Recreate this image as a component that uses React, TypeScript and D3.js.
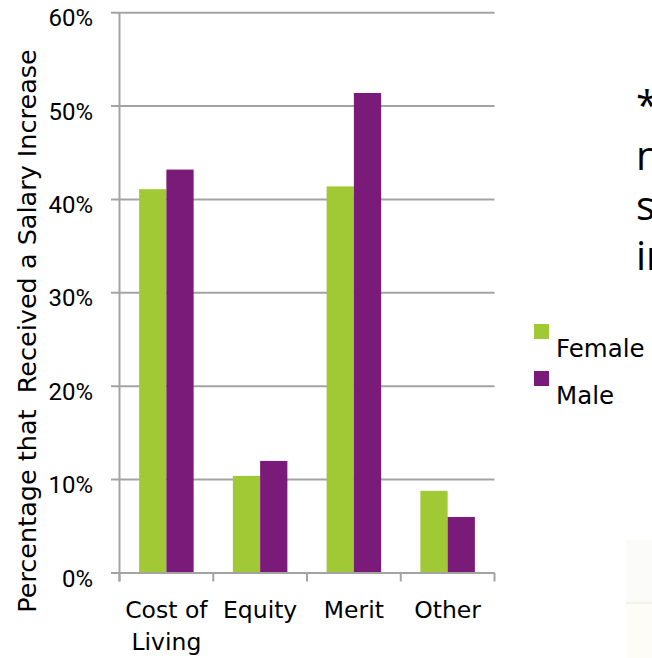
import React from "react";
import * as d3 from "d3";

// Share of respondents who received each kind of salary increase, by gender
const categories = ["Cost of Living", "Equity", "Merit", "Other"];
const categoryLines = [["Cost of", "Living"], ["Equity"], ["Merit"], ["Other"]];
const seriesNames = ["Female", "Male"];
const femaleValues = [0.411, 0.104, 0.414, 0.088];
const maleValues = [0.432, 0.12, 0.514, 0.06];
const yTicks = [0, 0.1, 0.2, 0.3, 0.4, 0.5, 0.6];
const sideNoteLines = ["*", "n", "s", "in"];

const colors = ["#a1c935", "#7b1b79"];
const gridColor = "#a3a3a3";

const W = 652;
const H = 658;
const left = 119.5;
const right = 494.5;
const top = 12.7;
const bottom = 573;

export default function App() {
  const x = d3.scaleBand<string>().domain(categories).range([left, right]).padding(0);
  const inner = d3
    .scaleBand<string>()
    .domain(seriesNames)
    .range([0, x.bandwidth()])
    .paddingInner(0)
    .paddingOuter(0.72);
  const y = d3.scaleLinear().domain([0, 0.6]).range([bottom, top]);
  const fmt = d3.format(".0%");
  const series = [femaleValues, maleValues];
  const boundaries = [...categories.map((c) => x(c) as number), right];

  return (
    <svg
      width={W}
      height={H}
      style={{ position: "absolute", left: 0, top: 0, display: "block", background: "#fff" }}
    >
      <rect x={0} y={0} width={W} height={H} fill="#fff" />

      {/* faint photo corner at the lower right */}
      <rect x={626} y={540} width={26} height={63} fill="#fbfbf9" />
      <rect x={626} y={603} width={26} height={55} fill="#fdfcf6" />
      <line x1={626} x2={652} y1={603} y2={603} stroke="#f4ede0" strokeWidth={1.2} />

      {/* horizontal gridlines with their left tick marks */}
      {yTicks.map((t) => (
        <line
          key={"g" + t}
          x1={111}
          x2={right}
          y1={y(t)}
          y2={y(t)}
          stroke={gridColor}
          strokeWidth={2}
        />
      ))}

      {/* bars */}
      {categories.map((c, ci) =>
        seriesNames.map((s, si) => {
          const v = series[si][ci];
          const bx = (x(c) as number) + (inner(s) as number);
          return (
            <rect
              key={c + s}
              x={bx}
              y={y(v)}
              width={inner.bandwidth()}
              height={y(0) - y(v)}
              fill={colors[si]}
            />
          );
        })
      )}

      {/* vertical axis */}
      <line x1={left} x2={left} y1={top} y2={bottom + 8.5} stroke={gridColor} strokeWidth={2} />
      {/* category tick marks below the baseline */}
      {boundaries.map((bx, i) => (
        <line
          key={"xt" + i}
          x1={bx}
          x2={bx}
          y1={bottom}
          y2={bottom + 8.5}
          stroke={gridColor}
          strokeWidth={2}
        />
      ))}
      <line x1={111} x2={right} y1={bottom} y2={bottom} stroke={gridColor} strokeWidth={2} />

      {/* y tick labels */}
      {yTicks.map((t) => (
        <text
          key={"yl" + t}
          x={93}
          y={y(t) + 13.6}
          textAnchor="end"
          fontFamily="Roboto, sans-serif"
          fontSize={24}
          fill="#000"
        >
          {fmt(t)}
        </text>
      ))}

      {/* category labels */}
      {categories.map((c, ci) => (
        <text
          key={"xl" + c}
          textAnchor="middle"
          fontFamily="'DejaVu Sans', sans-serif"
          fontSize={23.5}
          fill="#000"
        >
          {categoryLines[ci].map((ln, li) => (
            <tspan key={li} x={(x(c) as number) + x.bandwidth() / 2} y={618 + li * 32}>
              {ln}
            </tspan>
          ))}
        </text>
      ))}

      {/* y axis title */}
      <text
        transform={`translate(36, 331) rotate(-90)`}
        textAnchor="middle"
        fontFamily="'DejaVu Sans', sans-serif"
        fontSize={25.5}
        fill="#000"
        style={{ whiteSpace: "pre" }}
      >
        {"Percentage that  Received a Salary Increase"}
      </text>

      {/* legend */}
      {seriesNames.map((s, si) => (
        <g key={"lg" + s}>
          <rect x={534} y={324 + si * 47} width={15} height={15} fill={colors[si]} />
          <text
            x={556}
            y={357 + si * 47}
            fontFamily="'DejaVu Sans', sans-serif"
            fontSize={24.5}
            fill="#000"
          >
            {s}
          </text>
        </g>
      ))}

      {/* side note text running off the right edge */}
      {sideNoteLines.map((t, i) => (
        <text
          key={"sn" + i}
          x={636}
          y={120 + i * 50}
          fontFamily="'Open Sans', sans-serif"
          fontSize={40}
          fill="#000"
        >
          {t}
        </text>
      ))}
    </svg>
  );
}
